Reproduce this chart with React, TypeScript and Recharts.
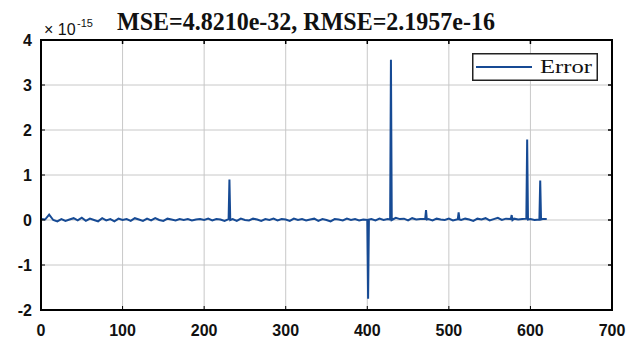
import React from 'react';
import { LineChart, Line, XAxis, YAxis, CartesianGrid } from 'recharts';

// sample positions (x) and error values (×1e-15)
const sampleX = [
  0, 5, 10, 15, 20, 25, 30, 35, 40, 45,
  50, 55, 60, 65, 70, 75, 80, 85, 90, 95,
  100, 105, 110, 115, 120, 125, 130, 135, 140, 145,
  150, 155, 160, 165, 170, 175, 180, 185, 190, 195,
  200, 205, 210, 215, 220, 225, 230, 231, 232, 235,
  240, 245, 250, 255, 260, 265, 270, 275, 280, 285,
  290, 295, 300, 305, 310, 315, 320, 325, 330, 335,
  340, 345, 350, 355, 360, 365, 370, 375, 380, 385,
  390, 395, 400, 401, 402, 405, 410, 415, 420, 425,
  428, 429, 430, 435, 440, 445, 450, 455, 460, 465,
  471, 472, 473, 475, 480, 485, 490, 495, 500, 505,
  511, 512, 513, 515, 520, 525, 530, 535, 540, 545,
  550, 555, 560, 565, 570, 576, 577, 578, 580, 585,
  590, 595, 596, 597, 600, 605, 611, 612, 613, 615,
  620,
];

const errorValues = [
  0.02, 0.01, 0.12, 0.0, -0.03, 0.02, -0.02, 0.01, 0.04, -0.01,
  0.05, -0.02, 0.03, 0.0, -0.03, 0.04, -0.01, 0.02, -0.03, 0.03,
  0.0, 0.02, -0.02, 0.04, 0.01, -0.02, 0.03, -0.01, 0.04, 0.0,
  -0.02, 0.03, 0.01, -0.01, 0.02, 0.0, 0.02, -0.01, 0.01, 0.02,
  0.0, 0.03, -0.01, 0.02, 0.01, -0.02, 0.02, 0.9, 0.0, 0.02,
  -0.02, 0.03, 0.0, -0.01, 0.03, 0.01, -0.02, 0.02, 0.0, 0.03,
  -0.01, 0.02, 0.01, -0.02, 0.03, 0.0, 0.02, -0.01, 0.01, 0.03,
  -0.02, 0.02, 0.0, -0.03, 0.02, 0.01, -0.01, 0.03, 0.0, 0.02,
  -0.01, 0.01, 0.0, -1.75, 0.01, 0.02, -0.01, 0.03, 0.0, 0.02,
  0.01, 3.56, 0.0, 0.05, 0.02, 0.03, -0.01, 0.04, 0.01, 0.02,
  0.02, 0.22, 0.01, 0.02, -0.01, 0.03, 0.01, 0.0, 0.03, -0.01,
  0.02, 0.17, 0.01, 0.0, 0.03, 0.01, -0.02, 0.03, 0.01, 0.04,
  -0.01, 0.02, 0.05, 0.0, 0.03, 0.02, 0.11, 0.0, 0.03, 0.01,
  0.02, 0.03, 1.79, 0.01, 0.02, 0.0, 0.01, 0.88, 0.01, 0.02,
  0.02,
];

const xTicks = [0, 100, 200, 300, 400, 500, 600, 700];
const yTicks = [-2, -1, 0, 1, 2, 3, 4];
const titleText = 'MSE=4.8210e-32, RMSE=2.1957e-16';
const exponentBase = '\u00d7 10';
const exponentPower = '-15';
const seriesName = 'Error';

const X_MIN = 0;
const X_MAX = 700;
const Y_MIN = -2;
const Y_MAX = 4;

const data = sampleX.map((x, i) => ({ x, y: errorValues[i] }));

// chart layout (plot area)
const CHART_W = 630;
const CHART_H = 340;
const M_TOP = 40;
const M_RIGHT = 18;
const X_AXIS_H = 30;
const Y_AXIS_W = 41;
const PLOT_L = Y_AXIS_W;
const PLOT_R = CHART_W - M_RIGHT;
const PLOT_T = M_TOP;
const PLOT_B = CHART_H - X_AXIS_H;
const sx = (v: number) => PLOT_L + ((v - X_MIN) / (X_MAX - X_MIN)) * (PLOT_R - PLOT_L);
const sy = (v: number) => PLOT_B - ((v - Y_MIN) / (Y_MAX - Y_MIN)) * (PLOT_B - PLOT_T);

const LINE_COLOR = '#164a94';
const SANS = "'Liberation Sans', Arial, sans-serif";
const SERIF = "'Liberation Serif', 'Times New Roman', serif";

const tickStyle = { fontFamily: SANS, fontWeight: 700, fontSize: 16, fill: '#111' };
const borderLine = { stroke: '#000', strokeWidth: 2 };

function LegendBox() {
  return (
    <svg width={126} height={28} style={{ display: 'block' }}>
      <rect x={0.75} y={0.75} width={124.5} height={26.5} fill="#fff" stroke="#222" strokeWidth={1.5} />
      <line x1={4} x2={60} y1={14} y2={14} stroke={LINE_COLOR} strokeWidth={2} />
      <text x={68} y={20} fontFamily={SERIF} fontSize={18} fill="#111" textLength={52} lengthAdjust="spacingAndGlyphs">
        {seriesName}
      </text>
    </svg>
  );
}

export default function App() {
  return (
    <div style={{ position: 'absolute', left: 0, top: 0, width: CHART_W, height: CHART_H, background: '#fff' }}>
      <LineChart
        width={CHART_W}
        height={CHART_H}
        data={data}
        margin={{ top: M_TOP, right: M_RIGHT, bottom: 0, left: 0 }}
      >
        <CartesianGrid stroke="#c8c8c8" strokeWidth={1} />
        <XAxis
          dataKey="x"
          type="number"
          domain={[X_MIN, X_MAX]}
          ticks={xTicks}
          interval={0}
          height={X_AXIS_H}
          allowDataOverflow
          axisLine={borderLine}
          tickLine={{ stroke: '#000' }}
          tickSize={-4}
          tickMargin={19}
          tick={tickStyle}
        />
        <YAxis
          type="number"
          domain={[Y_MIN, Y_MAX]}
          ticks={yTicks}
          interval={0}
          width={Y_AXIS_W}
          allowDataOverflow
          axisLine={borderLine}
          tickLine={{ stroke: '#000' }}
          tickSize={-4}
          tickMargin={13}
          tick={tickStyle}
        />
        <Line
          dataKey="y"
          name={seriesName}
          type="linear"
          stroke={LINE_COLOR}
          strokeWidth={2}
          dot={false}
          isAnimationActive={false}
        />
      </LineChart>
      <div
        style={{
          position: 'absolute',
          left: PLOT_L - 1,
          top: PLOT_T - 1,
          width: PLOT_R - PLOT_L + 2,
          height: PLOT_B - PLOT_T + 2,
          boxSizing: 'border-box',
          border: '2px solid #000',
          pointerEvents: 'none',
        }}
      />
      <svg
        width={CHART_W}
        height={CHART_H}
        style={{ position: 'absolute', left: 0, top: 0, pointerEvents: 'none' }}
      >
        {xTicks.map((t) => (
          <line key={`tt${t}`} x1={sx(t)} x2={sx(t)} y1={PLOT_T} y2={PLOT_T + 4} stroke="#000" strokeWidth={1.5} />
        ))}
        {yTicks.map((t) => (
          <line key={`rt${t}`} x1={PLOT_R} x2={PLOT_R - 4} y1={sy(t)} y2={sy(t)} stroke="#000" strokeWidth={1.5} />
        ))}
        <text x={44} y={35} fontFamily={SANS} fontSize={16} fill="#111">
          {exponentBase}
        </text>
        <text x={77} y={27} fontFamily={SANS} fontSize={11} fill="#111">
          {exponentPower}
        </text>
        <text
          x={117}
          y={30}
          fontFamily={SERIF}
          fontWeight={700}
          fontSize={26}
          fill="#111"
          textLength={378}
          lengthAdjust="spacingAndGlyphs"
        >
          {titleText}
        </text>
      </svg>
      <div style={{ position: 'absolute', left: 472, top: 53 }}>
        <LegendBox />
      </div>
    </div>
  );
}
